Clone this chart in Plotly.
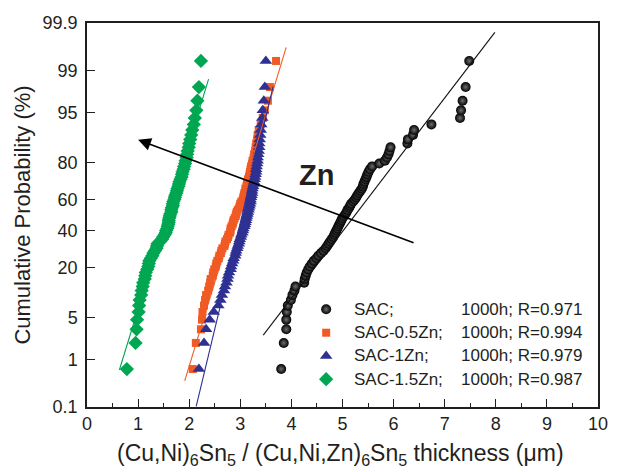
import plotly.graph_objects as go
from statistics import NormalDist

# ---------------------------------------------------------------------------
# Probability-plot data: sorted IMC thickness values (um) for each alloy
# ---------------------------------------------------------------------------
SERIES = ["SAC", "SAC-0.5Zn", "SAC-1Zn", "SAC-1.5Zn"]
LEGEND_NAMES = ["SAC;", "SAC-0.5Zn;", "SAC-1Zn;", "SAC-1.5Zn;"]
AGING = "1000h"
R_VALUES = [0.971, 0.994, 0.979, 0.987]

sac = [
    3.80, 3.85, 3.90, 3.90, 3.91, 3.93, 3.99, 4.02, 4.06, 4.08,
    4.25, 4.26, 4.28, 4.30, 4.33, 4.36, 4.40, 4.44, 4.49, 4.53,
    4.58, 4.63, 4.67, 4.70, 4.73, 4.76, 4.79, 4.82, 4.84, 4.86,
    4.88, 4.90, 4.92, 4.94, 4.96, 4.98, 5.00, 5.03, 5.06, 5.08,
    5.10, 5.13, 5.15, 5.17, 5.21, 5.24, 5.27, 5.29, 5.32, 5.35,
    5.38, 5.40, 5.41, 5.43, 5.45, 5.47, 5.49, 5.51, 5.54, 5.58,
    5.72, 5.83, 5.87, 5.90, 5.92, 5.94, 6.27, 6.28, 6.38, 6.40,
    6.74, 7.30, 7.32, 7.35, 7.41, 7.48,
]
sac_05zn = [
    2.07, 2.13, 2.23, 2.25, 2.26, 2.29, 2.31, 2.33, 2.37, 2.39,
    2.41, 2.42, 2.46, 2.47, 2.49, 2.52, 2.53, 2.55, 2.58, 2.59,
    2.62, 2.63, 2.65, 2.69, 2.70, 2.71, 2.74, 2.76, 2.77, 2.80,
    2.81, 2.81, 2.83, 2.85, 2.86, 2.87, 2.89, 2.91, 2.92, 2.93,
    2.95, 2.98, 2.99, 3.00, 3.02, 3.05, 3.06, 3.07, 3.08, 3.10,
    3.10, 3.12, 3.13, 3.14, 3.15, 3.17, 3.18, 3.19, 3.20, 3.21,
    3.23, 3.24, 3.26, 3.27, 3.29, 3.30, 3.31, 3.33, 3.34, 3.36,
    3.40, 3.44, 3.48, 3.54, 3.58, 3.70,
]
sac_1zn = [
    2.19, 2.29, 2.33, 2.40, 2.48, 2.57, 2.61, 2.64, 2.68, 2.70,
    2.73, 2.75, 2.76, 2.78, 2.81, 2.82, 2.84, 2.86, 2.87, 2.90,
    2.91, 2.92, 2.94, 2.95, 2.97, 2.98, 2.99, 3.01, 3.02, 3.04,
    3.05, 3.06, 3.08, 3.09, 3.10, 3.11, 3.12, 3.13, 3.14, 3.15,
    3.16, 3.17, 3.18, 3.19, 3.20, 3.20, 3.21, 3.22, 3.23, 3.23,
    3.24, 3.25, 3.26, 3.27, 3.28, 3.29, 3.30, 3.31, 3.31, 3.32,
    3.33, 3.34, 3.34, 3.35, 3.36, 3.37, 3.37, 3.38, 3.39, 3.40,
    3.41, 3.43, 3.44, 3.46, 3.48, 3.50,
]
sac_15zn = [
    0.78, 0.95, 0.97, 0.98, 1.01, 1.02, 1.03, 1.06, 1.07, 1.09,
    1.10, 1.13, 1.14, 1.15, 1.18, 1.20, 1.21, 1.22, 1.25, 1.28,
    1.30, 1.33, 1.36, 1.37, 1.38, 1.43, 1.47, 1.49, 1.52, 1.54,
    1.55, 1.57, 1.58, 1.59, 1.60, 1.60, 1.61, 1.62, 1.63, 1.65,
    1.65, 1.66, 1.68, 1.68, 1.69, 1.71, 1.72, 1.73, 1.75, 1.76,
    1.77, 1.79, 1.80, 1.81, 1.83, 1.85, 1.86, 1.87, 1.89, 1.90,
    1.92, 1.93, 1.95, 1.96, 1.97, 1.99, 2.00, 2.02, 2.04, 2.06,
    2.09, 2.11, 2.14, 2.16, 2.19, 2.23,
]
THICKNESS = [sac, sac_05zn, sac_1zn, sac_15zn]

# Normal fit lines: mean, standard deviation, and drawn probability span (%)
FIT_MEAN = [5.247, 2.900, 3.037, 1.564]
FIT_SD = [0.930, 0.370, 0.2925, 0.373]
FIT_P_LO = [2.66, 0.38, 0.104, 0.63]
FIT_P_HI = [99.836, 99.65, 98.06, 98.56]

# Probability axis ticks (%)
PROB_TICKS = [0.1, 1, 5, 20, 40, 60, 80, 95, 99, 99.9]
TICK_TEXT = ["0.1", "1", "5", "20", "40", "60", "80", "95", "99", "99.9"]
X_TICKS = list(range(0, 11))

# Trend arrow (thickness, cumulative %) and its label
ARROW_TAIL = (6.42, 32.4)
ARROW_HEAD = (1.00, 88.7)
ZN_LABEL = (4.50, 74.2)

# ---------------------------------------------------------------------------
ND = NormalDist()


def probit(pct):
    return ND.inv_cdf(pct / 100.0)


COLORS = ["#111111", "#f15a24", "#2e3192", "#00a651"]
SYMBOLS = ["circle", "square", "triangle-up", "diamond"]
SIZES = [10, 8, 11, 11]
FONT = "Liberation Sans, Arial, sans-serif"
TXT = "#231f20"


def marker_style(k):
    m = dict(symbol=SYMBOLS[k], size=SIZES[k], color=COLORS[k], line=dict(width=0))
    if k == 0:
        # shaded sphere look for SAC points
        m["color"] = "#000000"
        m["gradient"] = dict(type="radial", color="#6e6e6e")
    return m


fig = go.Figure()

for k, vals in enumerate(THICKNESS):
    n = len(vals)
    pos = [probit((i + 0.5) / n * 100.0) for i in range(n)]
    fig.add_trace(go.Scatter(
        x=vals, y=pos, mode="markers", marker=marker_style(k),
        name=SERIES[k], showlegend=False,
    ))

for k in range(len(SERIES)):
    zs = [probit(FIT_P_LO[k]), probit(FIT_P_HI[k])]
    xs = [FIT_MEAN[k] + FIT_SD[k] * z for z in zs]
    fig.add_trace(go.Scatter(
        x=xs, y=zs, mode="lines",
        line=dict(color=COLORS[k], width=1.1),
        showlegend=False, hoverinfo="skip",
    ))

# Legend symbols on an overlay axis in [0, 1] space
LEG_X = 0.468
LEG_Y = [0.2544, 0.1935, 0.1331, 0.0724]
for k in range(len(SERIES)):
    fig.add_trace(go.Scatter(
        x=[LEG_X], y=[LEG_Y[k]], mode="markers", marker=marker_style(k),
        xaxis="x2", yaxis="y2", showlegend=False, hoverinfo="skip",
    ))

annotations = []
for k in range(len(SERIES)):
    annotations.append(dict(
        x=0.5177, y=LEG_Y[k], xref="paper", yref="paper",
        text=LEGEND_NAMES[k], showarrow=False, xanchor="left", yanchor="middle",
        font=dict(family=FONT, size=17, color=TXT),
    ))
    annotations.append(dict(
        x=0.9718, y=LEG_Y[k], xref="paper", yref="paper",
        text=f"{AGING}; R={R_VALUES[k]:.3f}", showarrow=False,
        xanchor="right", yanchor="middle",
        font=dict(family=FONT, size=17, color=TXT),
    ))

annotations.append(dict(
    x=ARROW_HEAD[0], y=probit(ARROW_HEAD[1]), xref="x", yref="y",
    ax=ARROW_TAIL[0], ay=probit(ARROW_TAIL[1]), axref="x", ayref="y",
    text="", showarrow=True, arrowhead=2, arrowsize=1.6, arrowwidth=1.6,
    arrowcolor="#000000",
))
annotations.append(dict(
    x=ZN_LABEL[0], y=probit(ZN_LABEL[1]), xref="x", yref="y",
    text="<b>Zn</b>", showarrow=False, xanchor="center", yanchor="middle",
    font=dict(family=FONT, size=29, color=TXT),
))

# Axis titles
annotations.append(dict(
    x=-0.128, y=0.5, xref="paper", yref="paper",
    text="Cumulative Probability (%)", textangle=-90, showarrow=False,
    xanchor="center", yanchor="middle",
    font=dict(family=FONT, size=22, color=TXT),
))
annotations.append(dict(
    x=0.497, y=-0.082, xref="paper", yref="paper",
    text="(Cu,Ni)<sub>6</sub>Sn<sub>5</sub> / (Cu,Ni,Zn)<sub>6</sub>Sn<sub>5</sub>"
         " thickness (\u03bcm)",
    showarrow=False, xanchor="center", yanchor="top",
    font=dict(family=FONT, size=23, color=TXT),
))

axis_common = dict(
    showgrid=False, zeroline=False, showline=True, linecolor="#231f20",
    linewidth=1.5, mirror=True, ticks="inside", ticklen=8, tickwidth=1.2,
    tickcolor="#231f20", tickfont=dict(family=FONT, size=18, color=TXT),
)

fig.update_layout(
    width=620, height=472,
    margin=dict(l=87, r=12, t=23, b=65),
    paper_bgcolor="white", plot_bgcolor="white",
    xaxis=dict(
        range=[0, 10], tickvals=X_TICKS,
        minor=dict(dtick=0.5, ticks="inside", ticklen=4, tickwidth=1.2,
                   tickcolor="#231f20", showgrid=False),
        **axis_common,
    ),
    yaxis=dict(
        range=[probit(0.1), probit(99.9)],
        tickvals=[probit(p) for p in PROB_TICKS], ticktext=TICK_TEXT,
        ticklabelstandoff=4,
        **axis_common,
    ),
    xaxis2=dict(overlaying="x", range=[0, 1], visible=False),
    yaxis2=dict(overlaying="y", range=[0, 1], visible=False),
    annotations=annotations,
    showlegend=False,
)

fig.write_html("out.html")
